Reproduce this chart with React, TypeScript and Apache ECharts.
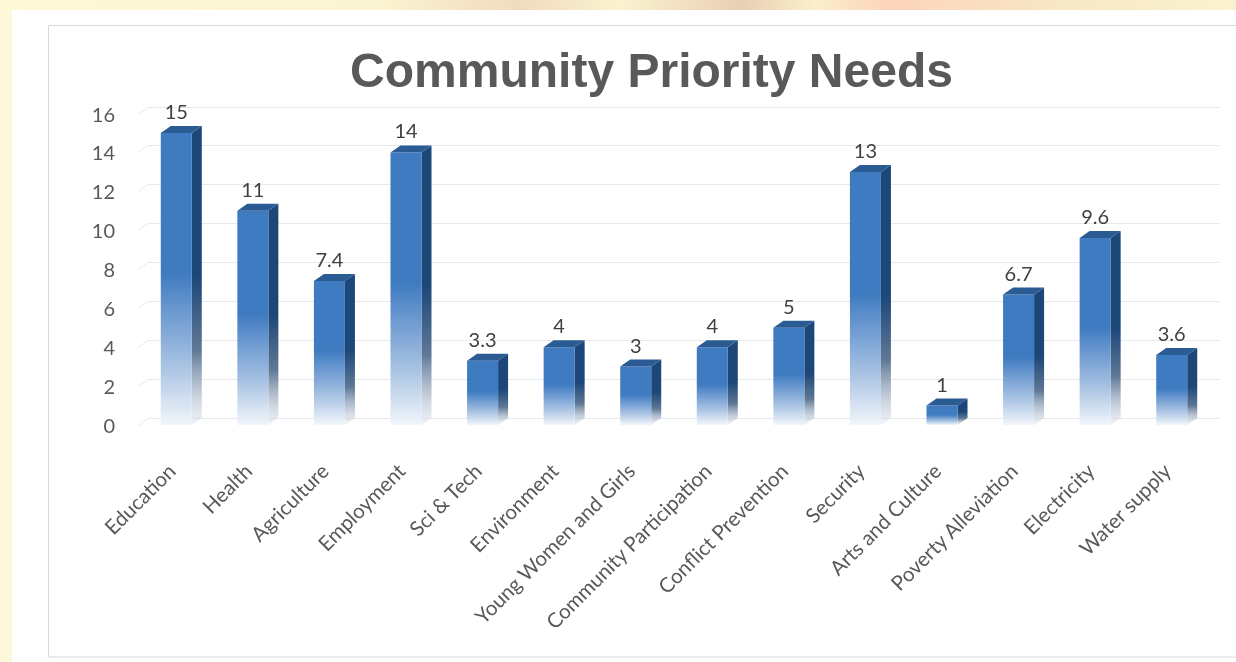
import React, { useEffect, useRef } from "react";
import * as echarts from "echarts";

const categories = [
  "Education",
  "Health",
  "Agriculture",
  "Employment",
  "Sci & Tech",
  "Environment",
  "Young Women and Girls",
  "Community Participation",
  "Conflict Prevention",
  "Security",
  "Arts and Culture",
  "Poverty Alleviation",
  "Electricity",
  "Water supply",
];
const values = [15, 11, 7.4, 14, 3.3, 4, 3, 4, 5, 13, 1, 6.7, 9.6, 3.6];
const yTicks = [0, 2, 4, 6, 8, 10, 12, 14, 16];
const titleText = "Community Priority Needs";

const DX = 10;
const DY = -7;
const FONT = "Lato, 'Open Sans', sans-serif";

export default function App() {
  const ref = useRef<HTMLDivElement>(null);

  useEffect(() => {
    if (!ref.current) return;
    const chart = echarts.init(ref.current, null, { renderer: "svg" });

    const frontGrad = () =>
      new echarts.graphic.LinearGradient(0, 0, 0, 1, [
        { offset: 0, color: "#3f7bc0" },
        { offset: 0.48, color: "#3f7bc0" },
        { offset: 0.56, color: "#5a8dcb" },
        { offset: 0.8, color: "#a9c3e3" },
        { offset: 1, color: "#f2f6fb" },
      ]);
    const sideGrad = () =>
      new echarts.graphic.LinearGradient(0, 0, 0, 1, [
        { offset: 0, color: "#1c4778" },
        { offset: 0.5, color: "#1c4778" },
        { offset: 0.75, color: "#5f7896" },
        { offset: 1, color: "rgba(215,222,232,0.4)" },
      ]);

    const option: any = {
      animation: false,
      graphic: [
        {
          type: "rect",
          z: -10,
          shape: { x: 0, y: 0, width: 1236, height: 662 },
          style: { fill: "#fcf8d9" },
        },
        {
          type: "rect",
          z: -10,
          shape: { x: 0, y: 0, width: 1236, height: 10 },
          style: {
            fill: new echarts.graphic.LinearGradient(0, 0, 1, 0, [
              { offset: 0, color: "#fdf8d6" },
              { offset: 0.3, color: "#fcf5d2" },
              { offset: 0.42, color: "#f0dbbd" },
              { offset: 0.5, color: "#faf2cf" },
              { offset: 0.6, color: "#e9cfb3" },
              { offset: 0.66, color: "#fbefcc" },
              { offset: 0.72, color: "#fdd3bb" },
              { offset: 0.86, color: "#f7e8c4" },
              { offset: 1, color: "#fbf2cf" },
            ]),
          },
        },
        {
          type: "rect",
          z: -9,
          shape: { x: 12, y: 10, width: 1230, height: 660 },
          style: { fill: "#ffffff" },
        },
        {
          type: "rect",
          z: -8,
          shape: { x: 48.5, y: 25.5, width: 1200, height: 631.5 },
          style: { fill: "#ffffff", stroke: "#d9d9d9", lineWidth: 1 },
        },
        {
          type: "text",
          z: 10,
          x: 651.5,
          y: 70,
          style: {
            text: titleText,
            fill: "#595959",
            font: "bold 48px 'Liberation Sans', Arial, sans-serif",
            align: "center",
            verticalAlign: "middle",
          },
        },
      ],
      grid: { left: 138, right: 26, top: 113.5, bottom: 237, containLabel: false },
      xAxis: {
        type: "category",
        data: categories,
        axisLine: { show: false },
        axisTick: { show: false },
        splitLine: { show: false },
        axisLabel: {
          interval: 0,
          rotate: 45,
          margin: 37,
          padding: [0, 7, 0, 0],
          color: "#595959",
          fontSize: 20.5,
          fontFamily: FONT,
        },
      },
      yAxis: {
        type: "value",
        min: 0,
        max: 16,
        interval: 2,
        axisLine: { show: false },
        axisTick: { show: false },
        splitLine: { show: false },
        axisLabel: {
          margin: 23,
          color: "#595959",
          fontSize: 20,
          fontFamily: FONT,
        },
      },
      series: [
        {
          type: "custom",
          z: 1,
          silent: true,
          data: yTicks.map((t) => [0, t]),
          encode: { x: 0, y: 1 },
          renderItem: (params: any, api: any) => {
            const cs = params.coordSys;
            const p = api.coord([0, api.value(1)]);
            const y = Math.round(p[1]) + 0.5;
            return {
              type: "polyline",
              shape: {
                points: [
                  [cs.x, y],
                  [cs.x + DX, y + DY],
                  [cs.x + cs.width + DX, y + DY],
                ],
              },
              style: { stroke: "#e6e9ec", lineWidth: 1, fill: null },
            };
          },
        },
        {
          type: "custom",
          z: 2,
          data: values.map((v, i) => [i, v]),
          encode: { x: 0, y: 1 },
          renderItem: (params: any, api: any) => {
            const i = api.value(0);
            const v = api.value(1);
            const top = api.coord([i, v]);
            const base = api.coord([i, 0]);
            const bw = api.size([1, 0])[0] * 0.405;
            const xl = top[0] - bw / 2;
            const xr = top[0] + bw / 2;
            const ty = top[1];
            const by = base[1];
            return {
              type: "group",
              children: [
                {
                  type: "polygon",
                  shape: {
                    points: [
                      [xr, ty],
                      [xr + DX, ty + DY],
                      [xr + DX, by + DY],
                      [xr, by],
                    ],
                  },
                  style: { fill: sideGrad() },
                },
                {
                  type: "rect",
                  shape: { x: xl, y: ty, width: bw, height: by - ty },
                  style: { fill: frontGrad() },
                },
                {
                  type: "polygon",
                  shape: {
                    points: [
                      [xl, ty],
                      [xl + DX, ty + DY],
                      [xr + DX, ty + DY],
                      [xr, ty],
                    ],
                  },
                  style: { fill: "#2b5b93" },
                },
                {
                  type: "text",
                  x: top[0],
                  y: ty + DY - 5,
                  style: {
                    text: String(v),
                    fill: "#404040",
                    font: "20px " + FONT,
                    align: "center",
                    verticalAlign: "bottom",
                  },
                },
              ],
            };
          },
        },
      ],
    };

    chart.setOption(option);
    return () => chart.dispose();
  }, []);

  return (
    <div
      ref={ref}
      style={{ position: "fixed", left: 0, top: 0, width: 1236, height: 662 }}
    />
  );
}
